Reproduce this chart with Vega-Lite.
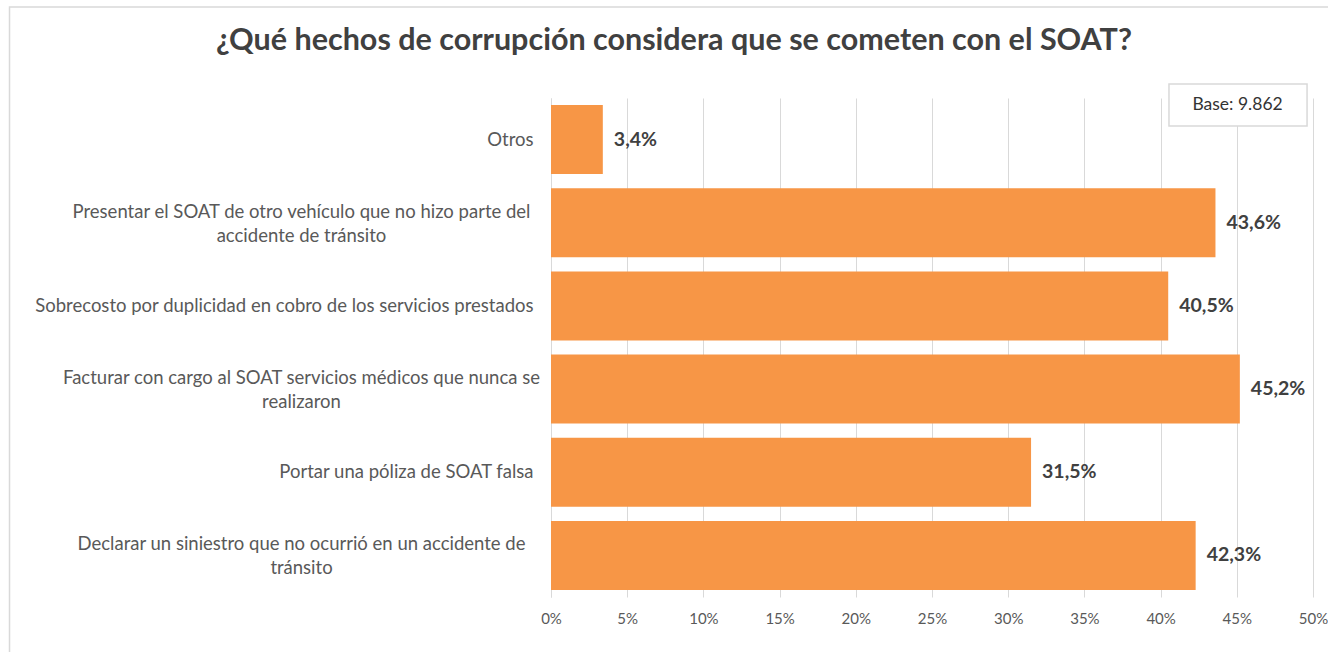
{
  "$schema": "https://vega.github.io/schema/vega-lite/v6.json",
  "autosize": {"type": "none"},
  "padding": {"left": 551, "top": 98, "right": 15, "bottom": 55},
  "width": 762,
  "height": 499,
  "background": "white",
  "config": {
    "locale": {"number": {"decimal": ",", "thousands": ".", "grouping": [3], "currency": ["$", ""]}},
    "view": {"stroke": null},
    "font": "Lato"
  },
  "title": {
    "text": "¿Qué hechos de corrupción considera que se cometen con el SOAT?",
    "font": "Lato",
    "fontSize": 30.5,
    "fontWeight": "bold",
    "color": "#404040",
    "anchor": "middle",
    "frame": "group",
    "dx": -258,
    "dy": 50,
    "offset": 0
  },
  "layer": [
    {
      "data": {
        "values": [
          {"categoria": "Otros", "pct": 0.034},
          {"categoria": "Presentar el SOAT de otro vehículo que no hizo parte del|accidente de tránsito", "pct": 0.436},
          {"categoria": "Sobrecosto por duplicidad en cobro de los servicios prestados", "pct": 0.405},
          {"categoria": "Facturar con cargo al SOAT servicios médicos que nunca se|realizaron", "pct": 0.452},
          {"categoria": "Portar una póliza de SOAT falsa", "pct": 0.315},
          {"categoria": "Declarar un siniestro que no ocurrió en un accidente de|tránsito", "pct": 0.423}
        ]
      },
      "encoding": {
        "y": {
          "field": "categoria",
          "type": "nominal",
          "sort": null,
          "scale": {"paddingInner": 0.17, "paddingOuter": 0.085},
          "axis": {
            "title": null,
            "ticks": false,
            "domain": true,
            "domainColor": "#D9D9D9",
            "domainWidth": 1,
            "grid": false,
            "labelFont": "Lato",
            "labelFontSize": 18.5,
            "labelColor": "#595959",
            "labelLimit": 700,
            "labelLineHeight": 24,
            "labelBaseline": "middle",
            "labelExpr": "split(datum.label, '|')",
            "labelAlign": {"condition": {"test": "indexof(datum.value, '|') >= 0", "value": "center"}, "value": "right"},
            "labelPadding": {"condition": {"test": "indexof(datum.value, '|') >= 0", "value": 250}, "value": 18},
            "labelOffset": {"condition": {"test": "indexof(datum.value, '|') >= 0", "value": -11}, "value": 0}
          }
        },
        "x": {
          "field": "pct",
          "type": "quantitative",
          "scale": {"domain": [0, 0.5]},
          "axis": {
            "title": null,
            "format": ".0%",
            "values": [0, 0.05, 0.1, 0.15, 0.2, 0.25, 0.3, 0.35, 0.4, 0.45, 0.5],
            "domain": false,
            "ticks": false,
            "grid": true,
            "gridColor": "#D9D9D9",
            "gridWidth": 1,
            "labelFont": "Lato",
            "labelFontSize": 15,
            "labelColor": "#595959",
            "labelFlush": false,
            "labelPadding": 14
          }
        }
      },
      "layer": [
        {"mark": {"type": "bar", "color": "#F79646"}},
        {
          "mark": {"type": "text", "align": "left", "baseline": "middle", "dx": 11, "font": "Lato", "fontSize": 19.5, "fontWeight": "bold", "color": "#404040"},
          "encoding": {"text": {"field": "pct", "type": "quantitative", "format": ".1%"}}
        }
      ]
    },
    {
      "layer": [
        {
          "data": {"values": [{"x0": -0.3553, "x1": 0.5177, "y0": -0.126, "y1": 1.1824}]},
          "mark": {"type": "rect", "fill": null, "fillOpacity": 0, "stroke": "#D9D9D9", "strokeWidth": 1.5},
          "encoding": {
            "x": {"field": "x0", "type": "quantitative", "scale": {"domain": [0, 0.5]}},
            "x2": {"field": "x1"},
            "y": {"field": "y0", "type": "quantitative", "scale": {"domain": [0, 1]}, "axis": null},
            "y2": {"field": "y1"}
          }
        },
        {
          "data": {"values": [{"x0": 0.4055, "x1": 0.4961, "y0": 0.9439, "y1": 1.028}]},
          "mark": {"type": "rect", "fill": "white", "stroke": "#D9D9D9", "strokeWidth": 1.5},
          "encoding": {
            "x": {"field": "x0", "type": "quantitative", "scale": {"domain": [0, 0.5]}},
            "x2": {"field": "x1"},
            "y": {"field": "y0", "type": "quantitative", "scale": {"domain": [0, 1]}, "axis": null},
            "y2": {"field": "y1"}
          }
        },
        {
          "data": {"values": [{"x": 0.4505, "y": 0.986, "texto": "Base: 9.862"}]},
          "mark": {"type": "text", "align": "center", "baseline": "middle", "font": "Lato", "fontSize": 17.5, "color": "#333333"},
          "encoding": {
            "x": {"field": "x", "type": "quantitative", "scale": {"domain": [0, 0.5]}},
            "y": {"field": "y", "type": "quantitative", "scale": {"domain": [0, 1]}, "axis": null},
            "text": {"field": "texto"}
          }
        }
      ]
    }
  ],
  "resolve": {"scale": {"y": "independent"}, "axis": {"y": "independent"}}
}
